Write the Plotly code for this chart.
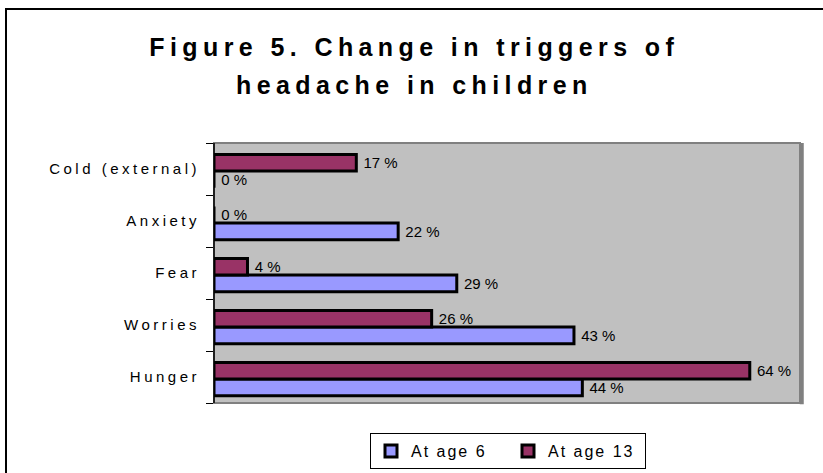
import plotly.graph_objects as go

categories = ["Hunger", "Worries", "Fear", "Anxiety", "Cold (external)"]
age6 = [44, 43, 29, 22, 0]
age13 = [64, 26, 4, 0, 17]
series_names = ["At age 6", "At age 13"]
title_lines = ["Figure 5. Change in triggers of", "headache in children"]

W, H = 823, 473
L, R, T, B = 214, 23, 143, 70
PW, PH = W - L - R, H - T - B

def px_x(px):
    return (px - L) / PW

def px_y(py):
    return (H - B - py) / PH

FONT = "Liberation Sans, Arial, sans-serif"
BW = 0.32      # bar thickness (category units)
SHIFT = -0.04  # group shifted slightly down

fig = go.Figure()
fig.add_trace(go.Bar(
    y=categories, x=age6, name=series_names[0], orientation="h",
    width=BW, offset=-BW + SHIFT,
    marker=dict(color="#9999FF", line=dict(color="black", width=3)),
    texttemplate="\u00a0%{x} %", textposition="outside", cliponaxis=False,
    constraintext="none",
    textfont=dict(size=15, color="black", family=FONT),
))
fig.add_trace(go.Bar(
    y=categories, x=age13, name=series_names[1], orientation="h",
    width=BW, offset=SHIFT,
    marker=dict(color="#993366", line=dict(color="black", width=3)),
    texttemplate="\u00a0%{x} %", textposition="outside", cliponaxis=False,
    constraintext="none",
    textfont=dict(size=15, color="black", family=FONT),
))

shapes = [
    dict(type="rect", xref="paper", yref="paper", x0=0, x1=1, y0=0, y1=1,
         line=dict(color="#808080", width=2), layer="below"),
    dict(type="line", xref="paper", yref="paper", x0=1.003, x1=1.003, y0=-0.005, y1=1,
         line=dict(color="#808080", width=4)),
    dict(type="line", xref="paper", yref="paper", x0=0, x1=0, y0=0, y1=1,
         line=dict(color="black", width=1.5)),
    dict(type="path", xref="paper", yref="paper",
         path=f"M {px_x(6)},{px_y(480)} L {px_x(6)},{px_y(9)} L {px_x(830)},{px_y(9)}",
         line=dict(color="black", width=2)),
]

annotations = [
    dict(text=title_lines[0], xref="paper", yref="paper", x=px_x(414), y=px_y(47),
         xanchor="center", yanchor="middle", showarrow=False,
         font=dict(size=25, color="black", family=FONT, weight="bold")),
    dict(text=title_lines[1], xref="paper", yref="paper", x=px_x(414), y=px_y(85),
         xanchor="center", yanchor="middle", showarrow=False,
         font=dict(size=25, color="black", family=FONT, weight="bold")),
]

fig.update_layout(
    width=W, height=H,
    margin=dict(l=L, r=R, t=T, b=B, pad=0),
    paper_bgcolor="white", plot_bgcolor="#C0C0C0",
    barmode="group",
    showlegend=True,
    legend=dict(orientation="h", xref="container", yref="container",
                x=370 / W, xanchor="left", y=1 - 433 / H, yanchor="top",
                bgcolor="white", bordercolor="black", borderwidth=1,
                entrywidth=92, entrywidthmode="pixels",
                font=dict(size=16, color="black", family=FONT), traceorder="normal"),
    xaxis=dict(range=[0, 70], showgrid=False, zeroline=False, showticklabels=False,
               ticks="", showline=False, fixedrange=True),
    yaxis=dict(showgrid=False, zeroline=False, ticks="outside", tickson="boundaries",
               ticklen=7, tickcolor="black", tickwidth=1, ticklabelstandoff=13,
               tickfont=dict(size=15, color="black", family=FONT), showline=False),
    shapes=shapes, annotations=annotations,
    font=dict(family=FONT, color="black"),
)

post = """
var st=document.createElement('style');
st.textContent='.ytick text{letter-spacing:3.5px;} .legendtext{letter-spacing:2px;} .annotation-text{letter-spacing:5.4px;}';
document.head.appendChild(st);
"""
fig.write_html("out.html", post_script=post)
